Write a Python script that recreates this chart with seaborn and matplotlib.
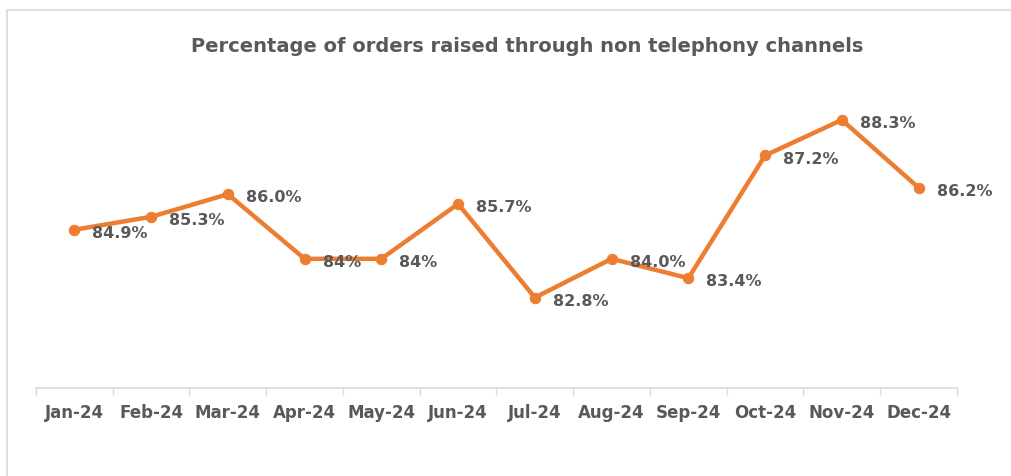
import pandas as pd
import numpy as np
import matplotlib.pyplot as plt
import seaborn as sb
from matplotlib.patches import Rectangle

MONTHS = ["Jan-24", "Feb-24", "Mar-24", "Apr-24", "May-24", "Jun-24",
          "Jul-24", "Aug-24", "Sep-24", "Oct-24", "Nov-24", "Dec-24"]
PCT = [84.9, 85.3, 86.0, 84.0, 84.0, 85.7, 82.8, 84.0, 83.4, 87.2, 88.3, 86.2]
LABELS = ["84.9%", "85.3%", "86.0%", "84%", "84%", "85.7%",
          "82.8%", "84.0%", "83.4%", "87.2%", "88.3%", "86.2%"]

ORANGE = "#ED7D31"
GREY = "#595959"
LIGHT = "#D9D9D9"

sb.set_theme(style="white")
plt.rcParams["font.family"] = ["DejaVu Sans"]

df = pd.DataFrame({"month": MONTHS, "pct": PCT, "x": range(len(MONTHS))})

fig = plt.figure(figsize=(10.12, 4.77), dpi=100)
# chart frame (cropped at right and bottom)
fig.patches.append(Rectangle((7 / 1012, -0.1), 1.2, 1 - 11 / 477 + 0.1,
                             transform=fig.transFigure, fill=False,
                             edgecolor=LIGHT, linewidth=1.2))
ax = fig.add_axes([36 / 1012, 1 - 389 / 477, (957 - 36) / 1012, (389 - 66) / 477])

sb.lineplot(data=df, x="x", y="pct", ax=ax, color=ORANGE, linewidth=3.2,
            marker="o", markersize=7.5, markeredgecolor=ORANGE, legend=False)

for xi, yi, lab in zip(df["x"], df["pct"], LABELS):
    ax.annotate(lab, (xi, yi), xytext=(13, -2), textcoords="offset points",
                ha="left", va="center", fontsize=11.5, fontweight="bold", color=GREY)

ax.set_xlim(-0.5, len(MONTHS) - 0.5)
ax.set_ylim(80, 90)
ax.set_xticks(range(len(MONTHS)))
ax.set_xticklabels(MONTHS, fontsize=12, fontweight="bold", color=GREY)
ax.set_xticks(np.arange(-0.5, len(MONTHS)), minor=True)
ax.tick_params(axis="x", which="major", length=0, pad=11)
ax.tick_params(axis="x", which="minor", length=5, width=1, color=LIGHT, direction="out", bottom=True)
ax.set_yticks([])
ax.set_xlabel("")
ax.set_ylabel("")
for s in ["top", "right", "left"]:
    ax.spines[s].set_visible(False)
ax.spines["bottom"].set_color(LIGHT)
ax.spines["bottom"].set_linewidth(1.2)

fig.text(527 / 1012, 1 - 47 / 477, "Percentage of orders raised through non telephony channels",
         ha="center", va="center", fontsize=14, fontweight="bold", color=GREY)

fig.savefig("out.png", dpi=100)
